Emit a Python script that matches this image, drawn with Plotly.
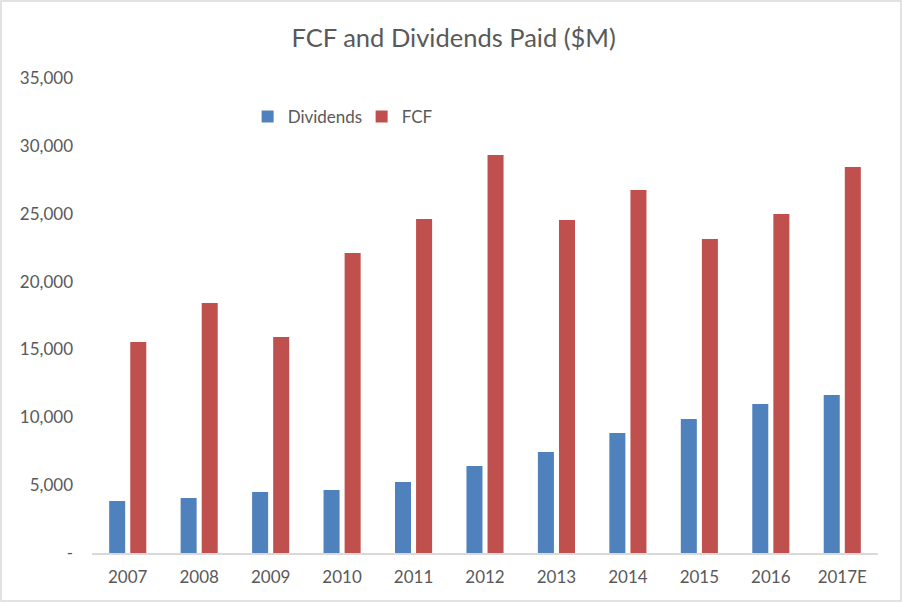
import plotly.graph_objects as go

years = ["2007", "2008", "2009", "2010", "2011", "2012", "2013", "2014", "2015", "2016", "2017E"]
dividends = [3830, 4050, 4500, 4640, 5230, 6410, 7440, 8840, 9870, 10980, 11640]
fcf = [15550, 18420, 15920, 22100, 24610, 29330, 24540, 26750, 23140, 24980, 28440]
y_ticks = [0, 5000, 10000, 15000, 20000, 25000, 30000, 35000]
y_tick_labels = ["-", "5,000", "10,000", "15,000", "20,000", "25,000", "30,000", "35,000"]

FONT = "Lato, 'Open Sans', sans-serif"
GREY = "#595959"

fig = go.Figure()
fig.add_trace(go.Bar(name="Dividends", x=years, y=dividends, marker=dict(color="#4F81BD", line=dict(width=0))))
fig.add_trace(go.Bar(name="FCF", x=years, y=fcf, marker=dict(color="#C0504D", line=dict(width=0))))

fig.update_layout(
    width=902, height=602,
    barmode="group", bargap=0.41, bargroupgap=0.24,
    paper_bgcolor="white", plot_bgcolor="white",
    margin=dict(l=92, r=24, t=78, b=49),
    title=dict(text="FCF and Dividends Paid ($M)", x=0.503, xanchor="center", y=0.937, yanchor="middle",
               font=dict(family=FONT, size=25.5, color=GREY)),
    font=dict(family=FONT, color=GREY),
    legend=dict(orientation="h", x=0.198, xanchor="left", y=0.918, yanchor="middle",
                font=dict(family=FONT, size=17, color=GREY), bgcolor="rgba(0,0,0,0)",
                itemwidth=30, entrywidth=69, entrywidthmode="pixels", traceorder="normal"),
    showlegend=True,
    xaxis=dict(showgrid=False, showline=True, linecolor="#D9D9D9", linewidth=1.5, ticks="",
               tickfont=dict(family=FONT, size=17, color=GREY), ticklabelstandoff=8, fixedrange=True),
    yaxis=dict(range=[0, 35000], tickvals=y_ticks, ticktext=y_tick_labels, showgrid=False, zeroline=False,
               showline=False, ticks="", tickfont=dict(family=FONT, size=17, color=GREY), ticklabelstandoff=18),
    shapes=[dict(type="rect", xref="paper", yref="paper", x0=-91/786, x1=1+23/786, y0=-48/475, y1=1+77/475,
                 line=dict(color="#D9D9D9", width=1.5), fillcolor="rgba(0,0,0,0)", layer="below")],
)

fig.write_html("out.html", config={"displayModeBar": False},
               post_script="document.body.style.margin='0';document.body.style.overflow='hidden';")
